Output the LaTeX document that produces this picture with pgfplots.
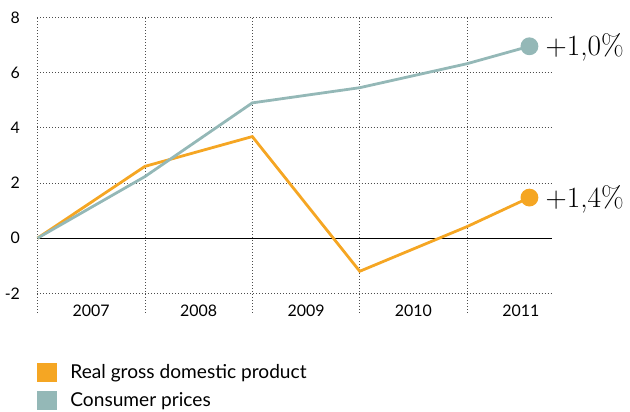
\documentclass[border=0pt]{standalone}
\usepackage{fontspec}
\setsansfont{Lato}
\usepackage{pgfplots}
\pgfplotsset{compat=1.18}
\definecolor{gdp}{HTML}{F5A623}
\definecolor{cpi}{HTML}{94B8B7}
\begin{document}
\begin{tikzpicture}
\begin{axis}[
  name=ax,
  scale only axis, width=514.5bp, height=295.4bp,
  xmin=0, xmax=4.79, ymin=-2.7, ymax=8,
  axis line style={draw=none},
  major tick length=0pt,
  clip=false,
  /pgf/number format/assume math mode=true,
  xtick={0,1,2,3,4}, xticklabels={},
  xmajorgrids,
  extra x ticks={0.5,1.5,2.5,3.5,4.5},
  extra x tick labels={2007,2008,2009,2010,2011},
  extra x tick style={grid=none, xticklabel style={anchor=center, yshift=1.5bp}},
  ytick={-2,0,2,4,6,8},
  ymajorgrids,
  grid style={black!70, line width=0.8bp, dash pattern=on 0.8bp off 2.2bp},
  ticklabel style={font=\sffamily\fontsize{16}{16}\selectfont},
  yticklabel style={anchor=east, xshift=-14bp},
  legend style={draw=none, fill=none, at={(0,0)}, anchor=north west, yshift=-50bp,
    inner sep=0pt, outer sep=0pt, row sep=9bp,
    font=\sffamily\fontsize{19.2}{20}\selectfont,
    nodes={inner sep=0pt},
    /tikz/every odd column/.append style={column sep=14bp}},
  legend cell align=left,
  legend image code/.code={\fill[#1] (0bp,-9.25bp) rectangle (18.5bp,9.25bp);},
]
\addlegendimage{gdp}
\addlegendentry{Real gross domestic product}
\addlegendimage{cpi}
\addlegendentry{Consumer prices}
\addplot[black, line width=1bp, forget plot] coordinates {(0,0) (4.79,0)};
\addplot[gdp, line width=2.8bp, mark=*, mark indices={6}, mark size=7.5bp,
  mark options={fill=gdp, draw=none}, forget plot]
  coordinates {(0,0) (1,2.6) (2,3.68) (3,-1.2) (4,0.42) (4.58,1.47)};
\addplot[cpi, line width=2.8bp, mark=*, mark indices={6}, mark size=7.5bp,
  mark options={fill=cpi, draw=none}, forget plot]
  coordinates {(0,0) (1,2.23) (2,4.9) (3,5.45) (4,6.32) (4.58,6.95)};
\node[anchor=base west, inner sep=0pt, font=\fontsize{29.5}{30}\selectfont, xshift=16bp, yshift=-9.5bp]
  at (axis cs:4.58,6.95) {+1,0\%};
\node[anchor=base west, inner sep=0pt, font=\fontsize{29.5}{30}\selectfont, xshift=16bp, yshift=-9.5bp]
  at (axis cs:4.58,1.47) {+1,4\%};
\coordinate (LL) at (rel axis cs:0,0);
\end{axis}
\pgfresetboundingbox
\path (LL) ++(-37.5bp,-99.3bp) rectangle ++(630bp,412bp);
\end{tikzpicture}
\end{document}
